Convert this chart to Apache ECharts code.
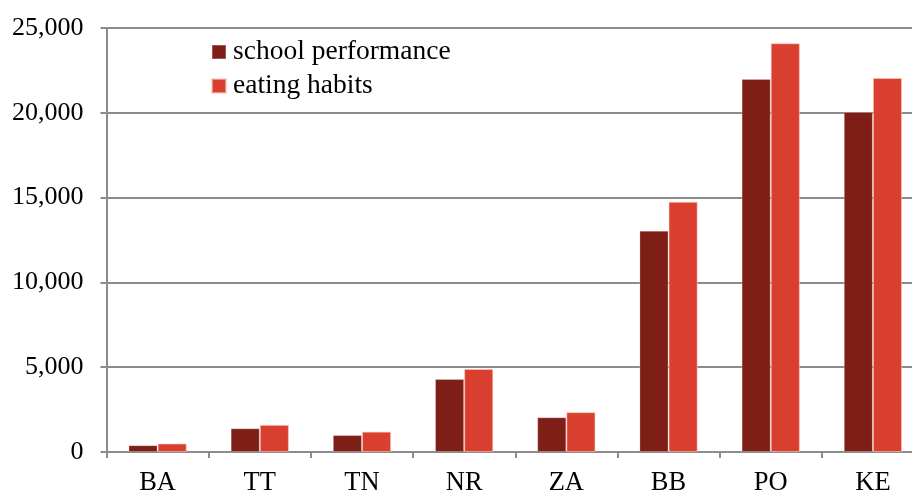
<!DOCTYPE html>
<html>
<head>
<meta charset="utf-8">
<script src="https://cdn.jsdelivr.net/npm/echarts@6/dist/echarts.min.js"></script>
<style>
  html, body { margin: 0; padding: 0; background: #fff; overflow: hidden; }
  /* the plot runs past the right edge of the window, so the canvas is wider */
  #chart { width: 930px; height: 494px; }
</style>
</head>
<body>
<div id="chart"></div>
<script>
// Country codes along the x axis
var categories = ['BA', 'TT', 'TN', 'NR', 'ZA', 'BB', 'PO', 'KE'];
// Series values
var schoolPerformance = [400, 1400, 1000, 4300, 2050, 13050, 22000, 20050];
var eatingHabits = [500, 1600, 1200, 4900, 2350, 14750, 24100, 22050];
// Value axis ticks
var yTicks = [0, 5000, 10000, 15000, 20000, 25000];

var FONT = '"Liberation Serif", "Times New Roman", serif';
var GRID = '#8c8c8c';

var chart = echarts.init(document.getElementById('chart'), null, { renderer: 'canvas' });

chart.setOption({
  animation: false,
  backgroundColor: '#ffffff',
  legend: {
    orient: 'vertical',
    left: 211,
    top: 38,
    padding: 0,
    itemWidth: 14,
    itemHeight: 14,
    itemGap: 6,
    icon: 'rect',
    textStyle: { fontFamily: FONT, fontSize: 27.5, lineHeight: 28, color: '#000', padding: [0, 0, 0, 2] },
    data: ['school performance', 'eating habits']
  },
  grid: { left: 106.5, top: 28, right: 6, bottom: 42, containLabel: false, outerBoundsMode: 'none' },
  xAxis: {
    type: 'category',
    data: categories,
    axisLine: { lineStyle: { color: GRID, width: 2 } },
    axisTick: { show: true, length: 6, alignWithLabel: false, lineStyle: { color: GRID, width: 2 } },
    axisLabel: { fontFamily: FONT, fontSize: 26.5, color: '#000', margin: 18 }
  },
  yAxis: {
    type: 'value',
    min: yTicks[0],
    max: yTicks[yTicks.length - 1],
    interval: yTicks[1] - yTicks[0],
    axisLine: { show: true, lineStyle: { color: GRID, width: 2 } },
    axisTick: { show: true, length: 6, lineStyle: { color: GRID, width: 2 } },
    splitLine: { lineStyle: { color: GRID, width: 2 } },
    axisLabel: {
      fontFamily: FONT, fontSize: 26, color: '#000', margin: 23,
      formatter: function (v) { return v.toLocaleString('en-US'); }
    }
  },
  series: [
    {
      name: 'school performance',
      type: 'bar',
      data: schoolPerformance,
      barGap: '0%',
      barCategoryGap: '43%',
      itemStyle: { color: '#7e1f17', borderColor: 'rgba(255,255,255,0.25)', borderWidth: 1 }
    },
    {
      name: 'eating habits',
      type: 'bar',
      data: eatingHabits,
      barGap: '0%',
      barCategoryGap: '43%',
      itemStyle: { color: '#d83f2e', borderColor: 'rgba(255,200,190,0.6)', borderWidth: 1 }
    }
  ]
});
</script>
</body>
</html>
